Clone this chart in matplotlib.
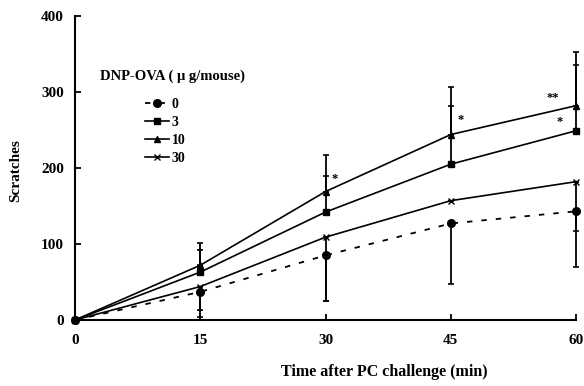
import numpy as np
import matplotlib
matplotlib.use('Agg')
import matplotlib.pyplot as plt

plt.rcParams['font.family'] = ['Liberation Serif', 'DejaVu Serif']
plt.rcParams['font.weight'] = 'bold'
plt.rcParams['axes.labelweight'] = 'bold'

# time after challenge (min)
time = np.array([0, 15, 30, 45, 60])

# mean scratches per dose group
dose0 = np.array([0, 37, 85, 127, 143])
dose3 = np.array([0, 63, 142, 205, 249])
dose10 = np.array([0, 72, 169, 244, 282])
dose30 = np.array([0, 44, 109, 157, 182])

# one-sided errors
err0_low = np.array([0, 33, 60, 80, 73])
err3_up = np.array([0, 29, 47, 77, 86])
err10_up = np.array([0, 29, 48, 62, 71])
err30_low = np.array([0, 31, 84, 0, 65])

stars = [(31.1, 186, '*'), (46.2, 263, '*'), (57.2, 292, '**'), (58.0, 261, '*')]

fig = plt.figure(figsize=(5.84, 3.86), dpi=100)
ax = fig.add_axes([0.1284, 0.171, 0.858, 0.7876])

ebk = dict(fmt='none', ecolor='black', elinewidth=1.3, capsize=2.5, capthick=1.2, clip_on=False)
ax.errorbar(time, dose10 + err10_up / 2, yerr=err10_up / 2, **ebk)
ax.errorbar(time, dose3 + err3_up / 2, yerr=err3_up / 2, **ebk)
ax.errorbar(time, dose0 - err0_low / 2, yerr=err0_low / 2, **ebk)
ax.errorbar(time, dose30 - err30_low / 2, yerr=err30_low / 2, **ebk)

l0, = ax.plot(time, dose0, color='black', lw=1.3, ls=(0, (3, 5)), marker='o', ms=5.5, clip_on=False)
l3, = ax.plot(time, dose3, color='black', lw=1.2, marker='s', ms=4.5, clip_on=False)
l10, = ax.plot(time, dose10, color='black', lw=1.2, marker='^', ms=4.5, clip_on=False)
l30, = ax.plot(time, dose30, color='black', lw=1.2, marker='x', ms=4.5, mew=1, clip_on=False)

for x, y, s in stars:
    ax.text(x, y, s, fontsize=9, ha='center', va='center')

ax.set_xlim(0, 60)
ax.set_ylim(0, 400)
ax.set_xticks(time)
ax.set_yticks([0, 100, 200, 300, 400])
for sp in ['top', 'right']:
    ax.spines[sp].set_visible(False)
for sp in ['left', 'bottom']:
    ax.spines[sp].set_linewidth(1.5)
ax.tick_params(direction='in', length=4, width=1.3, labelsize=11, pad=8)
ax.tick_params(axis='x', pad=10)

ax.set_xlabel('Time after PC challenge (min)', fontsize=11.5)
ax.xaxis.set_label_coords(0.617, -0.145)
ax.set_ylabel('Scratches', fontsize=11)
ax.yaxis.set_label_coords(-0.105, 0.49)

ax.text(0.05, 0.803, 'DNP-OVA ( \u03bc g/mouse)', transform=ax.transAxes,
        fontsize=10.5, ha='left', va='center')
ax.legend([l0, l3, l10, l30], ['0', '3', '10', '30'], loc='upper left',
          bbox_to_anchor=(0.14, 0.73), frameon=False, fontsize=10,
          handlelength=1.7, handletextpad=0.2, borderpad=0, borderaxespad=0,
          labelspacing=0.35)

fig.savefig('out.png', dpi=100)
